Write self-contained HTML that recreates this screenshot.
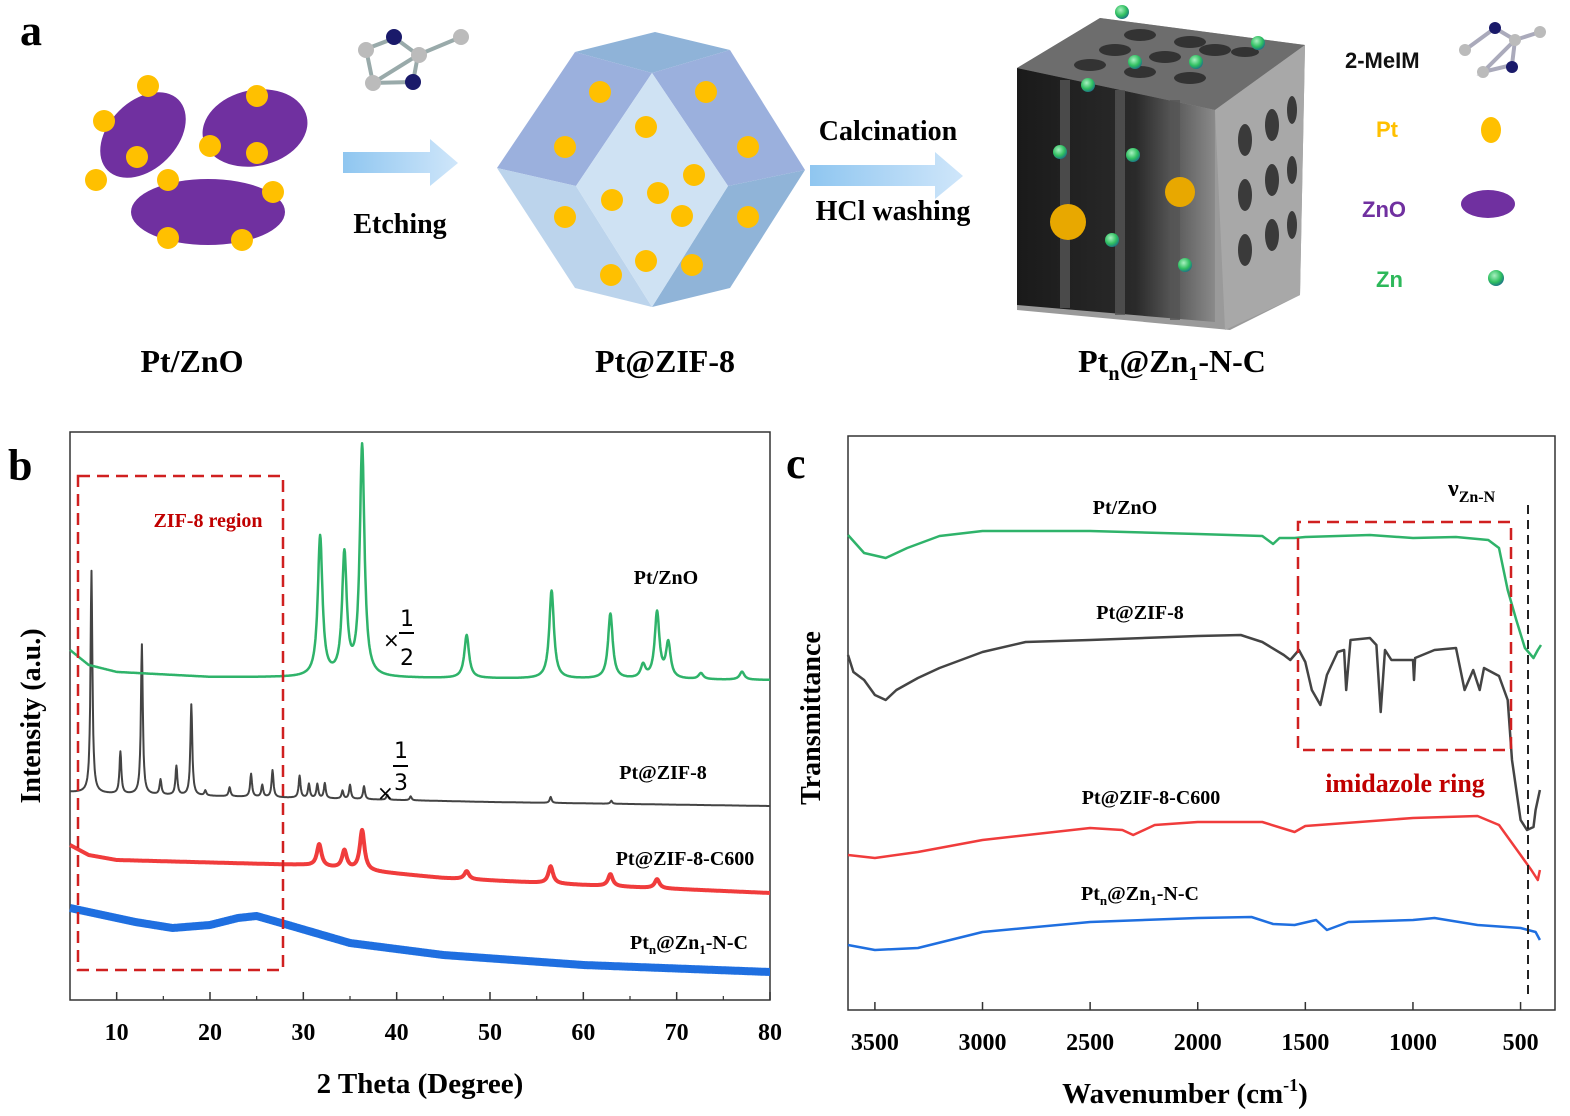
<!DOCTYPE html>
<html><head><meta charset="utf-8"><style>
html,body{margin:0;padding:0;background:#fff;}
svg{display:block;}
.serif{font-family:"Liberation Serif",serif;font-weight:bold;}
.sans{font-family:"Liberation Sans",sans-serif;font-weight:bold;}
</style></head><body>
<svg id="fig" width="1570" height="1116" viewBox="0 0 1570 1116" xmlns="http://www.w3.org/2000/svg">
<defs>
<linearGradient id="arrowGrad" x1="0" y1="0" x2="1" y2="0"><stop offset="0" stop-color="#8fc6f0"/><stop offset="1" stop-color="#cfe6fa"/></linearGradient>
<linearGradient id="colGrad" x1="0" y1="0" x2="1" y2="0"><stop offset="0" stop-color="#1a1a1a"/><stop offset="0.6" stop-color="#2a2a2a"/><stop offset="1" stop-color="#8a8a8a"/></linearGradient>
<radialGradient id="znGrad" cx="0.4" cy="0.35" r="0.7"><stop offset="0" stop-color="#a8f0c0"/><stop offset="0.6" stop-color="#2fbf60"/><stop offset="1" stop-color="#1a6b8a"/></radialGradient>
</defs>

<!-- Panel a -->
<g>
<text class="serif" x="20" y="45" font-size="44">a</text>
<g fill="#7030a0">
<ellipse cx="143" cy="135" rx="50" ry="34" transform="rotate(-45 143 135)"/>
<ellipse cx="255" cy="128" rx="53" ry="38" transform="rotate(-12 255 128)"/>
<ellipse cx="208" cy="212" rx="77" ry="33"/>
</g>
<g fill="#ffc000">
<circle cx="148" cy="86" r="11"/><circle cx="104" cy="121" r="11"/><circle cx="137" cy="157" r="11"/><circle cx="96" cy="180" r="11"/><circle cx="257" cy="96" r="11"/><circle cx="210" cy="146" r="11"/><circle cx="257" cy="153" r="11"/><circle cx="168" cy="180" r="11"/><circle cx="273" cy="192" r="11"/><circle cx="168" cy="238" r="11"/><circle cx="242" cy="240" r="11"/>
</g>
<text class="serif" x="192" y="372" font-size="32" text-anchor="middle">Pt/ZnO</text>
<g>
<path d="M373 83 L366 49 L395 38 L418 55 L461 37 M418 55 L413 82 L373 83 Z" stroke="#9aa" stroke-width="4" fill="none"/>
<circle cx="394" cy="37" r="8" fill="#1a1a6a"/><circle cx="366" cy="50" r="8" fill="#bbb"/><circle cx="419" cy="55" r="8" fill="#bbb"/><circle cx="461" cy="37" r="8" fill="#bbb"/><circle cx="373" cy="83" r="8" fill="#bbb"/><circle cx="413" cy="82" r="8" fill="#1a1a6a"/>
</g>
<polygon points="343,152 430,152 430,139 458,163 430,186 430,173 343,173" fill="url(#arrowGrad)"/>
<text class="serif" x="400" y="233" font-size="28" text-anchor="middle">Etching</text>
<g>
<polygon points="575,52 655,32 730,50 652,73" fill="#8fb3d8"/>
<polygon points="575,52 652,73 576,186 497,168" fill="#9bb0dd"/>
<polygon points="730,50 805,170 728,186 652,73" fill="#9bb0dd"/>
<polygon points="497,168 576,186 652,307 575,288" fill="#bcd4ec"/>
<polygon points="805,170 730,288 652,307 728,186" fill="#90b4d8"/>
<polygon points="652,73 728,186 652,307 576,186" fill="#cfe2f3"/>
</g>
<g fill="#ffc000">
<circle cx="600" cy="92" r="11"/><circle cx="706" cy="92" r="11"/><circle cx="646" cy="127" r="11"/><circle cx="565" cy="147" r="11"/><circle cx="748" cy="147" r="11"/><circle cx="694" cy="175" r="11"/><circle cx="658" cy="193" r="11"/><circle cx="612" cy="200" r="11"/><circle cx="682" cy="216" r="11"/><circle cx="565" cy="217" r="11"/><circle cx="748" cy="217" r="11"/><circle cx="646" cy="261" r="11"/><circle cx="692" cy="265" r="11"/><circle cx="611" cy="275" r="11"/>
</g>
<text class="serif" x="665" y="372" font-size="32" text-anchor="middle">Pt@ZIF-8</text>
<text class="serif" x="888" y="140" font-size="28" text-anchor="middle">Calcination</text>
<polygon points="810,165 935,165 935,152 963,176 935,199 935,186 810,186" fill="url(#arrowGrad)"/>
<text class="serif" x="893" y="220" font-size="28" text-anchor="middle">HCl washing</text>
<g>
<polygon points="1017,68 1100,18 1305,45 1300,295 1230,330 1017,310" fill="#9a9a9a"/>
<polygon points="1017,68 1100,18 1305,45 1215,110" fill="#6d6d6d"/>
<polygon points="1017,68 1215,110 1215,322 1017,305" fill="url(#colGrad)"/>
<g fill="#555" opacity="0.8"><rect x="1060" y="80" width="10" height="228"/><rect x="1115" y="90" width="10" height="225"/><rect x="1170" y="100" width="10" height="220"/></g>
<polygon points="1215,110 1305,45 1300,295 1225,330" fill="#a8a8a8"/>
<g fill="#3a3a3a"><ellipse cx="1245" cy="140" rx="7" ry="16"/><ellipse cx="1272" cy="125" rx="7" ry="16"/><ellipse cx="1245" cy="195" rx="7" ry="16"/><ellipse cx="1272" cy="180" rx="7" ry="16"/><ellipse cx="1245" cy="250" rx="7" ry="16"/><ellipse cx="1272" cy="235" rx="7" ry="16"/><ellipse cx="1292" cy="110" rx="5" ry="14"/><ellipse cx="1292" cy="170" rx="5" ry="14"/><ellipse cx="1292" cy="225" rx="5" ry="14"/></g>
<g fill="#333"><ellipse cx="1140" cy="35" rx="16" ry="6"/><ellipse cx="1190" cy="42" rx="16" ry="6"/><ellipse cx="1115" cy="50" rx="16" ry="6"/><ellipse cx="1165" cy="57" rx="16" ry="6"/><ellipse cx="1215" cy="50" rx="16" ry="6"/><ellipse cx="1090" cy="65" rx="16" ry="6"/><ellipse cx="1140" cy="72" rx="16" ry="6"/><ellipse cx="1190" cy="78" rx="16" ry="6"/><ellipse cx="1245" cy="52" rx="14" ry="5"/></g>
<g fill="url(#znGrad)"><circle cx="1122" cy="12" r="7"/><circle cx="1258" cy="43" r="7"/><circle cx="1135" cy="62" r="7"/><circle cx="1196" cy="62" r="7"/><circle cx="1088" cy="85" r="7"/><circle cx="1060" cy="152" r="7"/><circle cx="1133" cy="155" r="7"/><circle cx="1112" cy="240" r="7"/><circle cx="1185" cy="265" r="7"/></g>
<g fill="#e8a800"><circle cx="1068" cy="222" r="18"/><circle cx="1180" cy="192" r="15"/></g>
</g>
<text class="serif" x="1172" y="372" font-size="32" text-anchor="middle">Pt<tspan font-size="20" dy="8">n</tspan><tspan dy="-8">@Zn</tspan><tspan font-size="20" dy="8">1</tspan><tspan dy="-8">-N-C</tspan></text>
<g>
<text class="sans" x="1345" y="68" font-size="22" fill="#111">2-MeIM</text>
<path d="M1465 50 L1495 28 L1515 40 L1540 32 M1515 40 L1512 65 L1483 72 Z" stroke="#aab" stroke-width="4" fill="none"/>
<circle cx="1495" cy="28" r="6" fill="#1a1a6a"/><circle cx="1465" cy="50" r="6" fill="#bbb"/><circle cx="1515" cy="40" r="6" fill="#bbb"/><circle cx="1540" cy="32" r="6" fill="#bbb"/><circle cx="1512" cy="67" r="6" fill="#1a1a6a"/><circle cx="1483" cy="72" r="6" fill="#bbb"/>
<text class="sans" x="1376" y="137" font-size="22" fill="#ffc000">Pt</text>
<ellipse cx="1491" cy="130" rx="10" ry="13" fill="#ffc000"/>
<text class="sans" x="1362" y="217" font-size="22" fill="#7030a0">ZnO</text>
<ellipse cx="1488" cy="204" rx="27" ry="14" fill="#7030a0"/>
<text class="sans" x="1376" y="287" font-size="22" fill="#2db85a">Zn</text>
<circle cx="1496" cy="278" r="8" fill="url(#znGrad)"/>
</g>
</g>

<!-- Panel b -->
<g id="panelB">
<text class="serif" x="8" y="480" font-size="44">b</text>
<rect x="70" y="432" width="700" height="568" fill="none" stroke="#333" stroke-width="1.5"/>
<g id="bTicks"></g>
<g id="bSeries"></g>
<rect x="78" y="476" width="205" height="494" fill="none" stroke="#d02020" stroke-width="2.5" stroke-dasharray="12,7"/>
<text class="serif" x="208" y="527" font-size="20" fill="#c00000" text-anchor="middle">ZIF-8 region</text>
<text class="serif" x="666" y="584" font-size="20" text-anchor="middle">Pt/ZnO</text>
<text class="serif" x="663" y="779" font-size="20" text-anchor="middle">Pt@ZIF-8</text>
<text class="serif" x="685" y="865" font-size="20" text-anchor="middle">Pt@ZIF-8-C600</text>
<text class="serif" x="689" y="949" font-size="20" text-anchor="middle">Pt<tspan font-size="13" dy="5">n</tspan><tspan dy="-5">@Zn</tspan><tspan font-size="13" dy="5">1</tspan><tspan dy="-5">-N-C</tspan></text>
<g font-family="'DejaVu Sans',sans-serif"><text x="383" y="647" font-size="20">×</text><text x="400" y="626" font-size="22">1</text><line x1="399" y1="633" x2="414" y2="633" stroke="#000" stroke-width="2"/><text x="400" y="665" font-size="22">2</text></g>
<g font-family="'DejaVu Sans',sans-serif"><text x="377" y="800" font-size="20">×</text><text x="394" y="758" font-size="22">1</text><line x1="393" y1="766" x2="408" y2="766" stroke="#000" stroke-width="2"/><text x="394" y="790" font-size="22">3</text></g>
<text class="serif" x="420" y="1093" font-size="29" text-anchor="middle">2 Theta (Degree)</text>
<text class="serif" transform="translate(40 716) rotate(-90)" font-size="28" text-anchor="middle">Intensity (a.u.)</text>
</g>

<!-- Panel c -->
<g id="panelC">
<text class="serif" x="786" y="478" font-size="44">c</text>
<rect x="848" y="436" width="707" height="574" fill="none" stroke="#333" stroke-width="1.5"/>
<g id="cTicks"></g>
<g id="cSeries"></g>
<polyline points="1298,588 1298,522 1511,522 1511,750 1298,750 1298,588" fill="none" stroke="#d02020" stroke-width="2.5" stroke-dasharray="12,7"/>
<text class="serif" x="1405" y="792" font-size="26" fill="#c00000" text-anchor="middle">imidazole ring</text>
<line x1="1528" y1="505" x2="1528" y2="1000" stroke="#222" stroke-width="2" stroke-dasharray="9,6"/>
<text class="serif" x="1448" y="496" font-size="24">ν<tspan font-size="16" dy="6">Zn-N</tspan></text>
<text class="serif" x="1125" y="514" font-size="20" text-anchor="middle">Pt/ZnO</text>
<text class="serif" x="1140" y="619" font-size="20" text-anchor="middle">Pt@ZIF-8</text>
<text class="serif" x="1151" y="804" font-size="20" text-anchor="middle">Pt@ZIF-8-C600</text>
<text class="serif" x="1140" y="900" font-size="20" text-anchor="middle">Pt<tspan font-size="13" dy="5">n</tspan><tspan dy="-5">@Zn</tspan><tspan font-size="13" dy="5">1</tspan><tspan dy="-5">-N-C</tspan></text>
<text class="serif" x="1185" y="1103" font-size="29" text-anchor="middle">Wavenumber (cm<tspan font-size="18" dy="-12">-1</tspan><tspan dy="12">)</tspan></text>
<text class="serif" transform="translate(820 718) rotate(-90)" font-size="28" text-anchor="middle">Transmittance</text>
</g>
</svg>
<script>
// ---------- XRD data (panel b) ----------
const xrdTicks = [10,20,30,40,50,60,70,80];
const xrdMinorTicks = [15,25,35,45,55,65,75];
const znoBase = [[5,350],[7,335],[10,328],[20,323],[40,322],[80,320]];
const znoPeaks = [[31.8,140],[34.4,121],[36.3,231],[47.5,43],[56.6,88],[62.9,65],[66.4,13],[67.9,66],[69.1,35],[72.6,6],[77,8]];
const zifBase = [[5,208],[10,206],[30,202],[50,198],[80,194]];
const zifPeaks = [[7.3,222],[10.4,42],[12.7,150],[14.7,15],[16.4,29],[18.0,91],[19.5,5],[22.1,9],[24.4,23],[25.6,12],[26.7,27],[29.6,22],[30.6,14],[31.5,14],[32.3,15],[34.2,8],[35.0,14],[36.5,13],[39,5],[41.5,4],[56.5,6],[63,3]];
const c600Base = [[5,155],[7,145],[10,140],[30,135],[45,122],[60,115],[80,107]];
const c600Peaks = [[31.7,22],[34.4,18],[36.3,40],[47.5,8],[56.5,17],[62.9,12],[67.9,9]];
const ncBase = [[5,92],[8,86],[12,78],[16,72],[20,75],[23,82],[25,84],[28,76],[35,57],[45,45],[60,35],[80,28]];
const ncPeaks = [];

// ---------- FTIR data (panel c) ----------
const ftirTicks = [3500,3000,2500,2000,1500,1000,500];
const ftZnO = [[3625,475],[3550,457],[3450,452],[3350,462],[3200,474],[3000,479],[2500,479],[2000,476],[1700,474],[1650,466],[1620,472],[1550,472],[1500,473],[1200,475],[1000,472],[800,473],[650,470],[600,462],[560,420],[520,390],[480,362],[440,352],[420,360],[405,365]];
const ftZIF = [[3625,355],[3600,338],[3550,330],[3500,315],[3450,310],[3400,320],[3300,332],[3200,342],[3000,358],[2800,368],[2500,370],[2000,374],[1800,375],[1700,368],[1600,355],[1570,350],[1530,360],[1500,348],[1470,320],[1430,305],[1400,335],[1350,358],[1320,360],[1310,320],[1290,370],[1200,372],[1170,365],[1150,298],[1130,360],[1100,350],[1000,350],[995,330],[990,352],[900,360],[800,362],[760,320],[720,340],[690,320],[670,342],[600,334],[560,310],[540,250],[500,190],[470,180],[440,183],[430,200],[410,220]];
const ftC600 = [[3625,155],[3500,152],[3300,158],[3000,170],[2500,182],[2350,180],[2300,175],[2200,185],[2000,188],[1700,188],[1550,178],[1500,184],[1000,192],[700,194],[600,185],[500,155],[450,140],[420,130],[410,140]];
const ftNC = [[3625,65],[3500,60],[3300,62],[3000,78],[2500,88],[2000,92],[1750,93],[1650,86],[1550,85],[1450,90],[1400,80],[1300,88],[1000,90],[900,92],[700,85],[500,82],[430,78],[410,70]];

// ---------- axes ----------
const bX = v => 70 + (v - 5) / 75 * 700;
const bY = v => 1000 - v;
const cX = w => 848 + (3625 - w) / 3285 * 707;
const cY = v => 1010 - v;
const NS = 'http://www.w3.org/2000/svg';
function mk(tag, attrs, parent){const e=document.createElementNS(NS,tag);for(const k in attrs)e.setAttribute(k,attrs[k]);parent.appendChild(e);return e;}
function interp(base,x){for(let i=0;i<base.length-1;i++){const a=base[i],b=base[i+1];if(x>=a[0]&&x<=b[0]){return a[1]+(b[1]-a[1])*(x-a[0])/(b[0]-a[0]);}}return base[base.length-1][1];}
function xrdPath(base,peaks,w){let d='';for(let x=5;x<=80.001;x+=0.05){let y=interp(base,x);for(const p of peaks){const t=(x-p[0])/w;y+=p[1]/(1+t*t);}d+=(d?'L':'M')+bX(x).toFixed(1)+' '+bY(y).toFixed(1);}return d;}

const bT=document.getElementById('bTicks');
xrdTicks.forEach(t=>{
  const l=mk('line',{x1:bX(t),x2:bX(t),y1:1000,y2:992,stroke:'#333','stroke-width':1.5},bT);
  
  
  const tx=mk('text',{x:bX(t),y:1040,'font-size':24,'text-anchor':'middle','class':'serif'},bT);
  tx.textContent=t;
  
  
});
xrdMinorTicks.forEach(t=>{
  const l=mk('line',{x1:bX(t),x2:bX(t),y1:1000,y2:996,stroke:'#333','stroke-width':1.2},bT);
  
  
});
const bS=document.getElementById('bSeries');
const xrdSeries=[[ncBase,ncPeaks,'#1f6fe0',8,'xrd-series-ptn-zn1-nc'],[c600Base,c600Peaks,'#f03c3c',4,'xrd-series-pt-zif8-c600'],[zifBase,zifPeaks,'#444',2,'xrd-series-pt-zif8'],[znoBase,znoPeaks,'#2fb36a',2.5,'xrd-series-pt-zno']];
xrdSeries.forEach(s=>{
  const w = s[4]==='xrd-series-pt-zif8'?0.12:0.3;
  const p=mk('path',{d:xrdPath(s[0],s[1],w),fill:'none',stroke:s[2],'stroke-width':s[3],'stroke-linejoin':'round'},bS);
  
  
});

const cT=document.getElementById('cTicks');
ftirTicks.forEach(t=>{
  const l=mk('line',{x1:cX(t),x2:cX(t),y1:1010,y2:1002,stroke:'#333','stroke-width':1.5},cT);
  
  
  const tx=mk('text',{x:cX(t),y:1050,'font-size':24,'text-anchor':'middle','class':'serif'},cT);
  tx.textContent=t;
  
  
});
const cS=document.getElementById('cSeries');
const ftSeries=[[ftZnO,'#2fb36a','ftir-series-pt-zno'],[ftZIF,'#444','ftir-series-pt-zif8'],[ftC600,'#f03c3c','ftir-series-pt-zif8-c600'],[ftNC,'#1f6fe0','ftir-series-ptn-zn1-nc']];
ftSeries.forEach(s=>{
  const pts=s[0].map(p=>cX(p[0]).toFixed(1)+','+cY(p[1]).toFixed(1)).join(' ');
  const p=mk('polyline',{points:pts,fill:'none',stroke:s[1],'stroke-width':2.5,'stroke-linejoin':'round'},cS);
  
  
});
</script>
</body></html>
